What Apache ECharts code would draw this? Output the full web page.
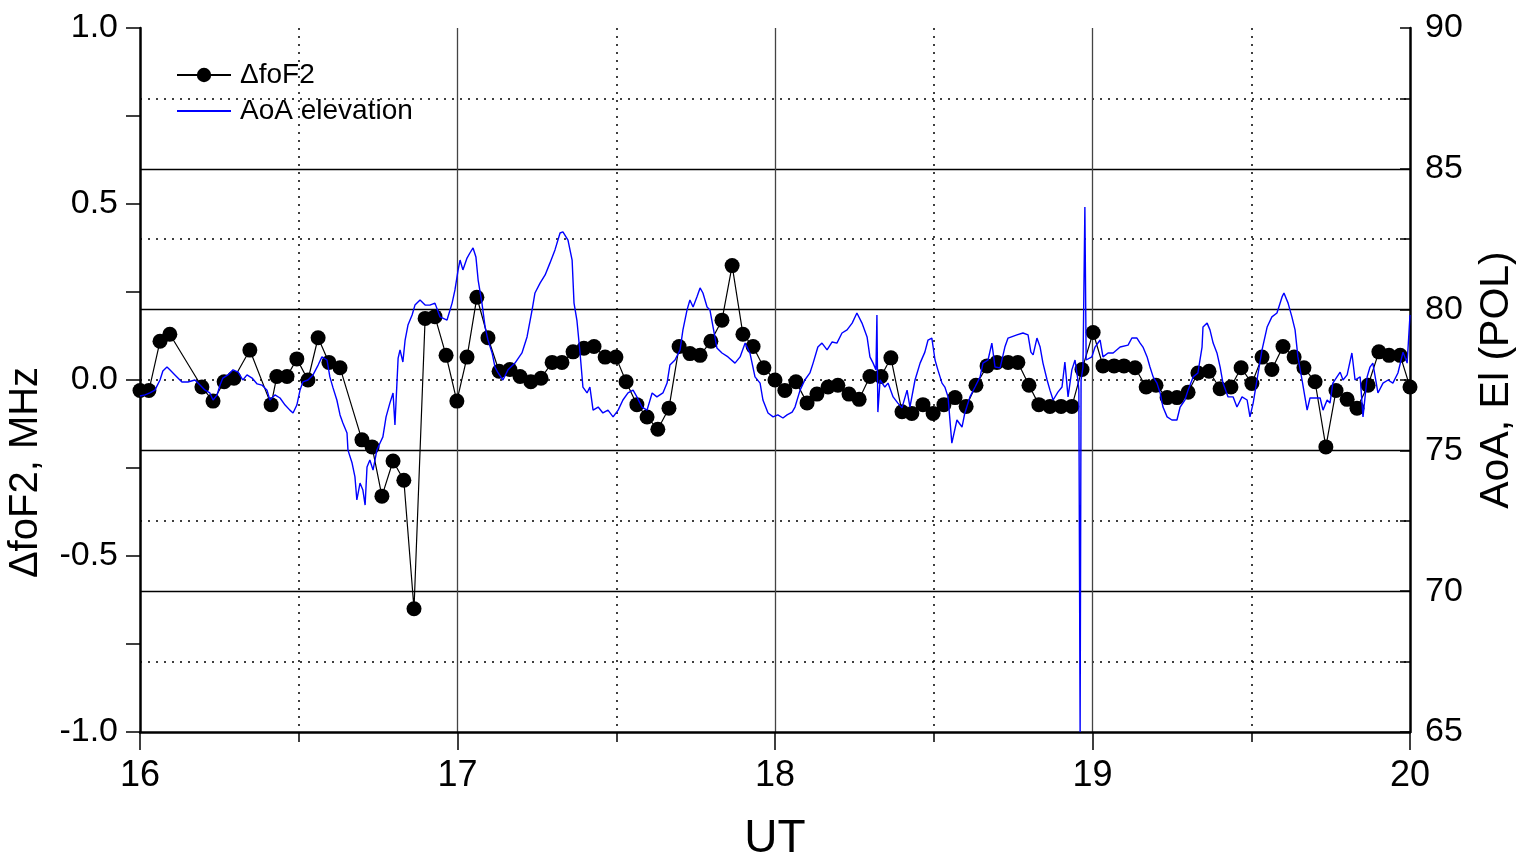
<!DOCTYPE html>
<html>
<head>
<meta charset="utf-8">
<script src="https://cdn.jsdelivr.net/npm/echarts@6/dist/echarts.min.js"></script>
<style>
html,body{margin:0;padding:0;background:#fff;}
#chart{width:1518px;height:862px;}
</style>
</head>
<body>
<div id="chart"></div>
<script>
// ΔfoF2 (MHz) vs UT (hours)
const dfTime = [16.000,16.028,16.063,16.094,16.195,16.230,16.265,16.296,16.346,16.413,16.431,16.463,16.494,16.529,16.561,16.595,16.630,16.699,16.731,16.762,16.797,16.831,16.863,16.898,16.929,16.964,16.998,17.030,17.061,17.096,17.131,17.165,17.197,17.231,17.263,17.298,17.329,17.364,17.398,17.430,17.465,17.499,17.531,17.565,17.597,17.631,17.666,17.698,17.732,17.764,17.798,17.833,17.865,17.899,17.931,17.965,18.000,18.031,18.066,18.101,18.132,18.167,18.198,18.233,18.265,18.299,18.334,18.365,18.400,18.431,18.466,18.498,18.532,18.567,18.602,18.633,18.668,18.699,18.734,18.765,18.800,18.831,18.866,18.901,18.935,18.967,19.002,19.033,19.068,19.099,19.134,19.169,19.200,19.235,19.266,19.301,19.332,19.367,19.402,19.436,19.468,19.502,19.534,19.565,19.600,19.635,19.666,19.701,19.735,19.767,19.802,19.833,19.868,19.902,19.934,19.969,20.000];
const dfVal = [-0.03,-0.03,0.11,0.13,-0.02,-0.06,-0.005,0.005,0.085,-0.07,0.01,0.01,0.06,0.0,0.12,0.05,0.035,-0.17,-0.19,-0.33,-0.23,-0.285,-0.65,0.175,0.18,0.07,-0.06,0.065,0.235,0.12,0.025,0.03,0.01,-0.005,0.005,0.05,0.05,0.08,0.09,0.095,0.065,0.065,-0.005,-0.07,-0.105,-0.14,-0.08,0.095,0.075,0.07,0.11,0.17,0.325,0.13,0.095,0.035,0.0,-0.03,-0.005,-0.065,-0.04,-0.02,-0.015,-0.04,-0.055,0.01,0.01,0.063,-0.09,-0.095,-0.07,-0.095,-0.07,-0.05,-0.075,-0.015,0.04,0.05,0.05,0.05,-0.015,-0.07,-0.075,-0.075,-0.075,0.03,0.135,0.04,0.04,0.04,0.035,-0.02,-0.015,-0.05,-0.05,-0.035,0.02,0.025,-0.025,-0.02,0.035,-0.01,0.065,0.03,0.095,0.065,0.035,-0.005,-0.19,-0.03,-0.055,-0.08,-0.015,0.08,0.07,0.07,-0.02];

// AoA elevation (deg) vs UT (hours)
const aoaTime = [16.000,16.016,16.031,16.047,16.063,16.072,16.085,16.094,16.110,16.132,16.151,16.173,16.189,16.205,16.220,16.230,16.243,16.252,16.261,16.277,16.293,16.309,16.324,16.337,16.353,16.369,16.384,16.400,16.409,16.425,16.441,16.457,16.472,16.482,16.494,16.504,16.513,16.529,16.545,16.561,16.573,16.589,16.598,16.608,16.620,16.630,16.639,16.652,16.655,16.668,16.677,16.683,16.693,16.702,16.709,16.715,16.724,16.734,16.746,16.756,16.765,16.775,16.787,16.797,16.803,16.809,16.813,16.819,16.828,16.835,16.844,16.857,16.866,16.882,16.898,16.913,16.929,16.945,16.967,16.983,16.992,17.002,17.008,17.017,17.030,17.039,17.049,17.058,17.065,17.077,17.087,17.096,17.109,17.118,17.128,17.143,17.159,17.181,17.203,17.219,17.235,17.244,17.260,17.276,17.291,17.307,17.323,17.332,17.348,17.361,17.367,17.376,17.386,17.395,17.408,17.417,17.427,17.443,17.458,17.474,17.490,17.506,17.521,17.537,17.553,17.565,17.581,17.597,17.613,17.628,17.647,17.660,17.669,17.685,17.701,17.710,17.723,17.732,17.742,17.754,17.764,17.773,17.786,17.795,17.805,17.817,17.833,17.852,17.874,17.890,17.906,17.921,17.937,17.953,17.962,17.978,17.994,18.009,18.025,18.038,18.054,18.063,18.079,18.094,18.110,18.120,18.135,18.148,18.164,18.180,18.195,18.211,18.227,18.243,18.258,18.274,18.290,18.299,18.309,18.318,18.321,18.324,18.331,18.346,18.356,18.372,18.387,18.400,18.416,18.425,18.441,18.457,18.472,18.482,18.494,18.504,18.513,18.526,18.535,18.545,18.557,18.573,18.589,18.598,18.614,18.630,18.646,18.655,18.671,18.683,18.693,18.709,18.724,18.734,18.762,18.781,18.797,18.806,18.813,18.825,18.835,18.844,18.857,18.866,18.876,18.891,18.904,18.913,18.923,18.935,18.945,18.954,18.957,18.961,18.964,18.970,18.976,18.980,18.986,18.998,19.008,19.024,19.033,19.049,19.065,19.087,19.112,19.124,19.140,19.150,19.159,19.172,19.181,19.191,19.203,19.213,19.222,19.235,19.250,19.266,19.276,19.291,19.301,19.317,19.332,19.345,19.348,19.361,19.370,19.380,19.392,19.402,19.411,19.427,19.443,19.455,19.471,19.487,19.496,19.506,19.518,19.534,19.550,19.565,19.581,19.597,19.603,19.616,19.628,19.638,19.647,19.660,19.669,19.676,19.685,19.717,19.726,19.739,19.748,19.757,19.770,19.780,19.789,19.802,19.817,19.827,19.843,19.852,19.865,19.874,19.883,19.899,19.915,19.931,19.946,19.962,19.978,19.991,20.000];
const aoaElev = [76.93,76.97,77.04,77.14,77.50,77.82,77.96,77.86,77.68,77.43,77.43,77.50,77.32,77.14,77.04,76.79,76.97,77.32,77.57,77.68,77.86,77.78,77.50,77.68,77.57,77.36,77.32,77.14,76.79,76.97,76.86,76.61,76.43,76.33,76.61,77.14,77.43,77.50,77.68,78.03,78.32,78.21,77.61,77.22,76.79,76.26,75.97,75.62,75.01,74.55,74.06,73.24,73.84,73.59,73.06,74.41,74.66,74.30,75.01,75.26,75.48,76.19,76.68,77.04,75.90,75.90,78.28,78.57,78.14,78.92,79.45,79.81,80.16,80.34,80.16,80.16,80.23,79.74,79.63,80.23,80.70,81.41,81.76,81.41,81.83,82.01,82.19,81.87,81.05,80.23,79.38,78.92,78.46,77.96,77.75,77.50,77.86,78.10,78.46,79.03,79.99,80.59,80.94,81.23,81.65,82.12,82.72,82.76,82.47,81.76,80.23,79.63,78.46,77.25,77.04,77.25,76.43,76.54,76.33,76.43,76.19,76.43,76.79,77.04,77.14,76.90,76.54,76.43,77.04,76.90,77.04,77.39,78.03,78.21,78.57,79.28,79.99,80.34,80.09,80.45,80.77,80.59,80.09,79.99,79.38,78.64,78.46,78.32,78.10,78.32,78.81,78.46,77.61,77.39,76.79,76.33,76.19,76.26,76.15,76.26,76.36,76.54,77.14,77.50,77.75,78.10,78.67,78.81,78.57,78.85,78.81,79.17,79.28,79.52,79.88,79.52,79.03,78.32,78.10,77.86,79.81,76.36,77.50,77.25,77.39,76.90,76.68,76.51,77.14,76.54,77.50,78.10,78.49,78.92,78.99,78.21,77.86,77.39,77.25,76.90,75.26,76.08,75.83,76.33,76.90,77.25,77.61,78.10,78.21,78.81,77.96,77.93,78.67,78.99,79.10,79.17,79.10,78.49,78.39,78.99,78.67,78.10,77.50,77.14,76.79,77.07,77.25,78.14,76.90,77.86,78.21,77.50,77.14,65.00,77.50,77.96,83.64,78.21,78.21,78.32,78.67,78.92,78.32,78.46,78.46,78.67,78.74,78.99,78.99,78.81,78.67,78.32,77.96,77.61,77.39,77.04,76.54,76.19,76.08,76.08,76.54,76.79,77.14,77.61,77.75,78.67,79.38,79.52,79.28,78.81,78.46,77.96,77.39,76.90,76.90,76.54,76.90,76.79,76.19,76.68,77.50,78.57,79.38,79.74,79.88,80.45,80.59,80.23,79.74,79.28,78.32,77.50,76.90,76.43,76.86,76.86,76.43,76.79,76.68,77.39,77.61,77.78,77.50,77.68,78.46,77.50,77.61,76.19,77.61,77.96,78.10,77.04,77.39,77.50,77.39,77.75,78.49,78.10,79.81];

// axis tick label sets
const xTicks = [16, 17, 18, 19, 20];
const leftTicks = [-1.0, -0.5, 0.0, 0.5, 1.0];
const rightTicks = [65, 70, 75, 80, 85, 90];

const FONT = 'Liberation Sans';

const chart = echarts.init(document.getElementById('chart'), null, {renderer: 'canvas'});

const dotted = {color: '#000', width: 1.5, type: [2, 6]};

chart.setOption({
  animation: false,
  backgroundColor: '#ffffff',
  grid: {left: 140, right: 108, top: 28, bottom: 130, containLabel: false, outerBoundsMode: 'none'},
  legend: {
    orient: 'vertical',
    left: 171,
    top: 56,
    itemWidth: 54,
    itemHeight: 18,
    itemGap: 8,
    textStyle: {fontFamily: FONT, fontSize: 28, color: '#000', padding: [0, 0, 0, 4]},
    data: [
      {name: 'ΔfoF2'},
      {name: 'AoA elevation', itemStyle: {opacity: 0}}
    ]
  },
  xAxis: {
    type: 'value',
    min: 16, max: 20, interval: 1,
    name: 'UT',
    nameLocation: 'middle',
    nameGap: 84,
    nameTextStyle: {fontFamily: FONT, fontSize: 46, color: '#000'},
    axisLine: {show: true, onZero: false, lineStyle: {color: '#000', width: 2.5}},
    axisTick: {show: true, length: 18, lineStyle: {color: '#000', width: 1.5}},
    minorTick: {show: true, splitNumber: 2, length: 10, lineStyle: {color: '#000', width: 1.5}},
    axisLabel: {
      margin: 26, fontFamily: FONT, fontSize: 36, color: '#000',
      formatter: v => xTicks.includes(v) ? String(v) : ''
    },
    splitLine: {show: true, showMinLine: false, showMaxLine: false, lineStyle: {color: '#444', width: 1.3}},
    minorSplitLine: {show: true, lineStyle: dotted}
  },
  yAxis: [
    {
      type: 'value',
      min: -1, max: 1, interval: 0.5,
      position: 'left',
      name: 'ΔfoF2, MHz',
      nameLocation: 'middle',
      nameGap: 94,
      nameRotate: 90,
      nameTextStyle: {fontFamily: FONT, fontSize: 40, color: '#000', padding: [0, 0, 0, -185]},
      axisLine: {show: true, onZero: false, lineStyle: {color: '#000', width: 2.5}},
      axisTick: {show: true, length: 14, lineStyle: {color: '#000', width: 1.5}},
      minorTick: {show: true, splitNumber: 2, length: 14, lineStyle: {color: '#000', width: 1.5}},
      axisLabel: {
        margin: 22, fontFamily: FONT, fontSize: 34, color: '#000',
        formatter: v => {
          const t = leftTicks.find(a => Math.abs(a - v) < 1e-9);
          return t === undefined ? '' : t.toFixed(1);
        }
      },
      splitLine: {show: false},
      minorSplitLine: {show: false}
    },
    {
      type: 'value',
      min: 65, max: 90, interval: 5,
      position: 'right',
      name: 'AoA, El (POL)',
      nameLocation: 'middle',
      nameGap: 66,
      nameRotate: 90,
      nameTextStyle: {fontFamily: FONT, fontSize: 41, color: '#000', padding: [0, 0, 0, 0]},
      axisLine: {show: true, onZero: false, lineStyle: {color: '#000', width: 2.5}},
      axisTick: {show: true, inside: true, length: 10, lineStyle: {color: '#000', width: 1.5}},
      minorTick: {show: true, splitNumber: 2, length: 10, lineStyle: {color: '#000', width: 1.5}},
      axisLabel: {
        margin: 15, fontFamily: FONT, fontSize: 34, color: '#000',
        formatter: v => rightTicks.includes(v) ? String(v) : ''
      },
      splitLine: {show: true, showMinLine: false, showMaxLine: false, lineStyle: {color: '#000', width: 1.3}},
      minorSplitLine: {show: true, lineStyle: dotted}
    }
  ],
  series: [
    {
      name: 'ΔfoF2',
      type: 'line',
      yAxisIndex: 0,
      data: dfTime.map((t, i) => [t, dfVal[i]]),
      symbol: 'circle',
      symbolSize: 15,
      showAllSymbol: true,
      itemStyle: {color: '#000'},
      lineStyle: {color: '#000', width: 1.2},
      z: 3
    },
    {
      name: 'AoA elevation',
      type: 'line',
      yAxisIndex: 1,
      data: aoaTime.map((t, i) => [t, aoaElev[i]]),
      symbol: 'none',
      clip: true,
      itemStyle: {color: '#0000ff'},
      lineStyle: {color: '#0000ff', width: 1.4},
      z: 4
    }
  ]
});
</script>
</body>
</html>
